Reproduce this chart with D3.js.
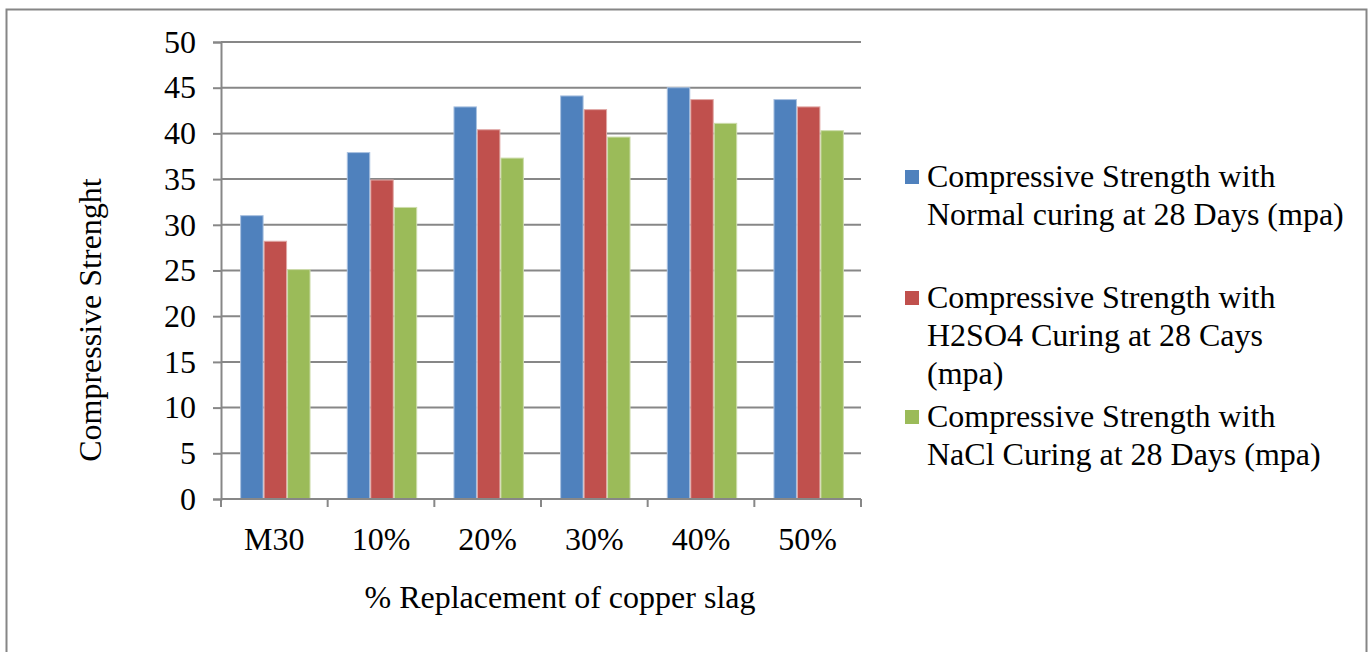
<!DOCTYPE html>
<html>
<head>
<meta charset="utf-8">
<script src="https://cdn.jsdelivr.net/npm/d3@7"></script>
<style>
  html, body { margin: 0; padding: 0; background: #fff; }
  svg { display: block; }
  text { font-family: "Liberation Serif", "Times New Roman", serif; fill: #000; }
</style>
</head>
<body>
<svg id="chart" width="1372" height="652"></svg>
<script>
// Replacement levels along the x axis
const categories = ["M30", "10%", "20%", "30%", "40%", "50%"];

// Compressive strength (MPa) at 28 days for each curing regime
const normalCuring = [31.0, 37.9, 42.9, 44.1, 45.0, 43.7];
const h2so4Curing  = [28.2, 34.9, 40.4, 42.6, 43.7, 42.9];
const naclCuring   = [25.1, 31.9, 37.3, 39.6, 41.1, 40.3];

const seriesNames = [
  ["Compressive Strength with", "Normal curing at 28 Days (mpa)"],
  ["Compressive Strength with", "H2SO4 Curing at 28 Cays", "(mpa)"],
  ["Compressive Strength with", "NaCl Curing at 28 Days (mpa)"]
];
const seriesColors = ["#4F81BD", "#C0504D", "#9BBB59"];
const seriesEdges  = ["#a9c1e0", "#e0a8a6", "#cddcac"];
const yTicks = [0, 5, 10, 15, 20, 25, 30, 35, 40, 45, 50];

const seriesValues = [normalCuring, h2so4Curing, naclCuring];

const svg = d3.select("#chart");
const fontSize = 32;

// outer chart frame
svg.append("rect")
  .attr("x", 6.5).attr("y", 9.5)
  .attr("width", 1360).attr("height", 660)
  .attr("fill", "none").attr("stroke", "#868686").attr("stroke-width", 2);

const plot = { left: 221, right: 861, top: 42, bottom: 499 };

const x = d3.scaleBand()
  .domain(categories)
  .range([plot.left, plot.right])
  .paddingInner(0.34).paddingOuter(0.17);

const xSeries = d3.scaleBand()
  .domain(d3.range(seriesValues.length))
  .range([0, x.bandwidth()]);

const y = d3.scaleLinear().domain([0, 50]).range([plot.bottom, plot.top]);

// horizontal gridlines
svg.append("g")
  .selectAll("line")
  .data(yTicks.filter(t => t > 0))
  .join("line")
  .attr("x1", plot.left).attr("x2", plot.right)
  .attr("y1", d => y(d)).attr("y2", d => y(d))
  .attr("stroke", "#878787").attr("stroke-width", 2);

// bars
const groups = svg.append("g")
  .selectAll("g")
  .data(categories)
  .join("g")
  .attr("transform", d => `translate(${x(d) + 1},0)`);

groups.selectAll("rect")
  .data((c, i) => seriesValues.map((vals, s) => ({ s, v: vals[i] })))
  .join("rect")
  .attr("x", d => xSeries(d.s) + 0.5)
  .attr("width", xSeries.bandwidth() - 1)
  .attr("y", d => y(d.v))
  .attr("height", d => y(0) - y(d.v))
  .attr("fill", d => seriesColors[d.s])
  .attr("stroke", d => seriesEdges[d.s])
  .attr("stroke-width", 1);

// y axis
const yAxis = svg.append("g")
  .attr("transform", `translate(${plot.left},0)`)
  .call(d3.axisLeft(y).tickValues(yTicks).tickSize(8).tickPadding(17));
yAxis.select(".domain").attr("stroke", "#878787").attr("stroke-width", 2);
yAxis.selectAll(".tick line").attr("stroke", "#878787").attr("stroke-width", 2);
yAxis.selectAll(".tick text")
  .style("font-family", "'Liberation Serif', 'Times New Roman', serif")
  .style("font-size", fontSize + "px").attr("fill", "#000");

// x axis with ticks on the category boundaries
const xAxisG = svg.append("g").attr("transform", `translate(0,${plot.bottom})`);
xAxisG.append("line")
  .attr("x1", plot.left).attr("x2", plot.right)
  .attr("stroke", "#878787").attr("stroke-width", 2);
const step = x.step();
const boundaries = categories.map(c => x(c) - (step - x.bandwidth()) / 2).concat([plot.right]);
xAxisG.selectAll("line.tick")
  .data(boundaries)
  .join("line")
  .attr("class", "tick")
  .attr("x1", d => d).attr("x2", d => d)
  .attr("y1", 0).attr("y2", 8)
  .attr("stroke", "#878787").attr("stroke-width", 2);
xAxisG.selectAll("text")
  .data(categories)
  .join("text")
  .attr("x", d => x(d) + x.bandwidth() / 2)
  .attr("y", 51)
  .attr("text-anchor", "middle")
  .style("font-size", fontSize + "px")
  .text(d => d);

// axis titles
svg.append("text")
  .attr("x", 560).attr("y", 608)
  .attr("text-anchor", "middle")
  .style("font-size", fontSize + "px")
  .text("% Replacement of copper slag");

svg.append("text")
  .attr("transform", "translate(101,320) rotate(-90)")
  .attr("text-anchor", "middle")
  .style("font-size", fontSize + "px")
  .text("Compressive Strenght");

// legend
const legendTops = [177, 298, 417];
const lineH = 38;
const legend = svg.append("g");
seriesNames.forEach((lines, i) => {
  legend.append("rect")
    .attr("x", 905).attr("y", legendTops[i] - 7)
    .attr("width", 14).attr("height", 14)
    .attr("fill", seriesColors[i]);
  const t = legend.append("text")
    .attr("x", 927).attr("y", legendTops[i] + 10)
    .style("font-size", fontSize + "px");
  lines.forEach((ln, j) => {
    t.append("tspan").attr("x", 927).attr("dy", j === 0 ? 0 : lineH).text(ln);
  });
});
</script>
</body>
</html>
